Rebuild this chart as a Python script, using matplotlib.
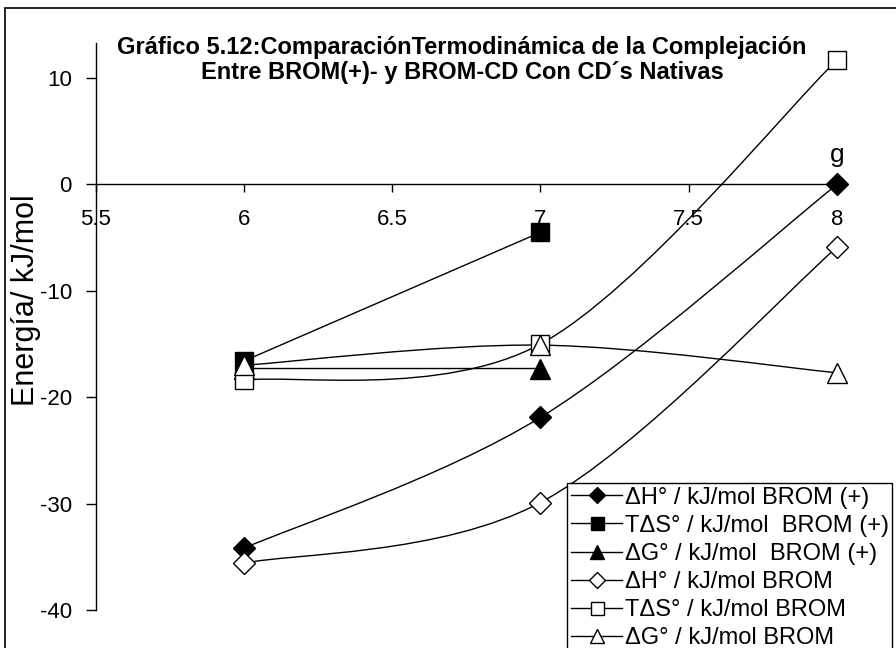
import matplotlib
matplotlib.use("Agg")
import matplotlib.pyplot as plt
from matplotlib.path import Path
from matplotlib.patches import PathPatch, Rectangle
from matplotlib.lines import Line2D
import numpy as np

plt.rcParams['font.family'] = ['Liberation Sans', 'DejaVu Sans']

# ---- data ----
x3 = [6, 7, 8]
x2 = [6, 7]
dH_brom_plus = [-34.2, -21.9, 0.0]
TdS_brom_plus = [-16.6, -4.5]
dG_brom_plus = [-17.3, -17.3]
dH_brom = [-35.6, -29.9, -5.9]
TdS_brom = [-18.4, -15.0, 11.7]
dG_brom = [-17.0, -15.1, -17.7]

labels = ["ΔH° / kJ/mol BROM (+)",
          "TΔS° / kJ/mol  BROM (+)",
          "ΔG° / kJ/mol  BROM (+)",
          "ΔH° / kJ/mol BROM",
          "TΔS° / kJ/mol BROM",
          "ΔG° / kJ/mol BROM"]
xticks = [5.5, 6, 6.5, 7, 7.5, 8]
xticklabels = ["5.5", "6", "6.5", "7", "7.5", "8"]
yticks = [-40, -30, -20, -10, 0, 10]

title = "Gráfico 5.12:ComparaciónTermodinámica de la Complejación\nEntre BROM(+)- y BROM-CD Con CD´s Nativas"
ylabel = "Energía/ kJ/mol"

W, H = 896, 648
fig = plt.figure(figsize=(W / 100, H / 100), dpi=100)
ax = fig.add_axes([95.5 / W, 1 - 610 / H, (837 - 95.5) / W, (610 - 43) / H])
ax.set_xlim(5.5, 8)
ax.set_ylim(-40, 13.3)


def smooth_path(xs, ys):
    pts = np.column_stack([xs, ys]).astype(float)
    n = len(pts)
    verts = [pts[0]]
    codes = [Path.MOVETO]
    for i in range(n - 1):
        p0 = pts[i - 1] if i > 0 else pts[i]
        p1 = pts[i]
        p2 = pts[i + 1]
        p3 = pts[i + 2] if i + 2 < n else pts[i + 1]
        c1 = p1 + (p2 - p0) / 6.0
        c2 = p2 - (p3 - p1) / 6.0
        verts += [c1, c2, p2]
        codes += [Path.CURVE4] * 3
    return Path(verts, codes)


series = [
    (x3, dH_brom_plus, 'D', 'black', 11),
    (x2, TdS_brom_plus, 's', 'black', 13),
    (x2, dG_brom_plus, '^', 'black', 14),
    (x3, dH_brom, 'D', 'white', 11),
    (x3, TdS_brom, 's', 'white', 13),
    (x3, dG_brom, '^', 'white', 14),
]

handles = []
for xs, ys, mk, fc, ms in series:
    patch = PathPatch(smooth_path(xs, ys), facecolor='none', edgecolor='black',
                      lw=1.0, transform=ax.transData, clip_on=False, zorder=2)
    ax.add_patch(patch)

for xs, ys, mk, fc, ms in series:
    ax.plot(xs, ys, linestyle='none', marker=mk, markersize=ms,
            markerfacecolor=fc, markeredgecolor='black', markeredgewidth=1.0,
            clip_on=False, zorder=3)
    handles.append(Line2D([], [], color='black', lw=1.0, marker=mk,
                          markersize=ms * 0.72, markerfacecolor=fc,
                          markeredgecolor='black', markeredgewidth=1.0))

# axes styling
for s in ['top', 'right']:
    ax.spines[s].set_visible(False)
ax.spines['bottom'].set_position(('data', 0))
ax.spines['left'].set_linewidth(1.0)
ax.spines['bottom'].set_linewidth(1.0)
ax.set_xticks(xticks)
ax.set_xticklabels(xticklabels)
ax.set_yticks(yticks)
ax.set_yticklabels([str(v) for v in yticks])
ax.tick_params(axis='x', direction='out', length=6, width=1, pad=12, labelsize=16)
ax.tick_params(axis='y', direction='out', length=7, width=1, pad=10, labelsize=16)
ax.patch.set_alpha(0)

ax.text(8, 2.8, "g", ha='center', va='center', fontsize=19)

fig.text(26 / W, 1 - 300 / H, ylabel, rotation=90, ha='center', va='center',
         fontsize=22)
fig.text(462 / W, 1 - 60 / H, title, ha='center', va='center', fontsize=17,
         fontweight='bold', multialignment='center', linespacing=1.15)

leg = fig.legend(handles=handles, labels=labels, loc='upper left',
                 bbox_to_anchor=(567 / W, 1 - 483 / H), bbox_transform=fig.transFigure,
                 borderaxespad=0, fontsize=17, frameon=True, fancybox=False,
                 edgecolor='black', framealpha=1, borderpad=0.15,
                 labelspacing=0.26, handlelength=2.2, handletextpad=0.1)
leg.get_frame().set_linewidth(1.0)

# outer chart border
fig.patches.append(Rectangle((5 / W, -0.1), 1.2, 1 - 8 / H + 0.1, transform=fig.transFigure,
                             fill=False, edgecolor='black', lw=1.2))

fig.savefig("out.png", dpi=100)
